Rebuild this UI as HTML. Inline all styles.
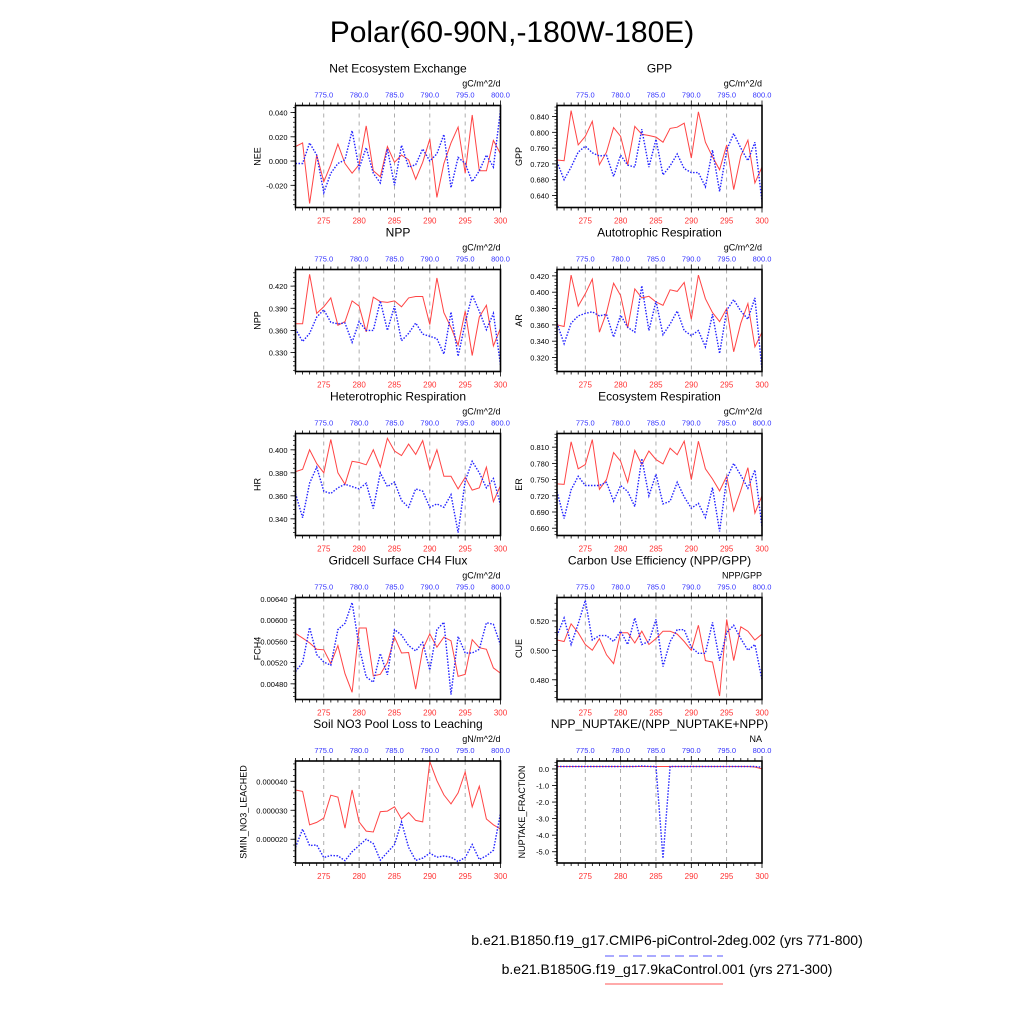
<!DOCTYPE html>
<html><head><meta charset="utf-8"><style>
html,body{margin:0;padding:0;background:#fff;}
svg{display:block;font-family:"Liberation Sans",sans-serif;}
</style></head><body>
<svg id="chart" width="1024" height="1024" viewBox="0 0 1024 1024">
<text x="512" y="42" font-size="30" text-anchor="middle">Polar(60-90N,-180W-180E)</text>
<g>
<text x="667" y="945" font-size="14" text-anchor="middle">b.e21.B1850.f19_g17.CMIP6-piControl-2deg.002 (yrs 771-800)</text>
<line x1="605" y1="956" x2="723" y2="956" stroke="#55f" stroke-width="1" stroke-dasharray="9 5"/>
<text x="667" y="974" font-size="14" text-anchor="middle">b.e21.B1850G.f19_g17.9kaControl.001 (yrs 271-300)</text>
<line x1="605" y1="984" x2="723" y2="984" stroke="#f55" stroke-width="1"/>
</g>
<g id="panels"></g>
</svg>
<script>
const years = [271,272,273,274,275,276,277,278,279,280,281,282,283,284,285,286,287,288,289,290,291,292,293,294,295,296,297,298,299,300];
const topTickLabels = ["775.0","780.0","785.0","790.0","795.0","800.0"];
const bottomTickLabels = ["275","280","285","290","295","300"];

const neeRed = [0.012,0.015,-0.035,0.005,-0.017,-0.003,0.014,-0.002,-0.010,-0.003,0.029,-0.008,-0.013,0.012,-0.001,0.005,0.001,-0.015,-0.001,0.018,-0.030,-0.002,0.015,0.028,-0.010,0.038,-0.008,-0.008,0.017,0.006];
const neeBlue = [-0.002,-0.002,0.015,0.005,-0.026,-0.010,-0.002,0.001,0.025,-0.006,0.011,-0.010,-0.018,0.010,-0.020,0.013,-0.005,-0.003,0.010,0.000,0.006,0.022,-0.022,0.003,-0.002,-0.017,-0.008,0.005,-0.005,0.042];
const gppRed = [0.730,0.728,0.855,0.768,0.790,0.828,0.718,0.750,0.812,0.790,0.718,0.815,0.795,0.792,0.788,0.775,0.810,0.813,0.823,0.735,0.852,0.775,0.738,0.705,0.768,0.655,0.740,0.780,0.672,0.712];
const gppBlue = [0.725,0.680,0.712,0.750,0.765,0.748,0.740,0.742,0.688,0.742,0.717,0.712,0.808,0.712,0.782,0.692,0.715,0.745,0.708,0.698,0.698,0.662,0.755,0.650,0.755,0.797,0.760,0.728,0.775,0.625];
const nppRed = [0.369,0.369,0.436,0.383,0.392,0.404,0.367,0.372,0.400,0.393,0.358,0.405,0.399,0.398,0.400,0.392,0.404,0.406,0.406,0.368,0.431,0.384,0.364,0.340,0.386,0.326,0.378,0.394,0.339,0.363];
const nppBlue = [0.362,0.345,0.356,0.378,0.388,0.371,0.369,0.370,0.344,0.372,0.360,0.360,0.400,0.360,0.393,0.346,0.356,0.370,0.355,0.352,0.349,0.328,0.385,0.325,0.370,0.408,0.386,0.361,0.383,0.313];
const arRed = [0.360,0.358,0.421,0.383,0.398,0.416,0.351,0.375,0.411,0.396,0.356,0.404,0.393,0.395,0.388,0.384,0.403,0.401,0.412,0.367,0.421,0.392,0.375,0.364,0.380,0.327,0.362,0.386,0.333,0.351];
const arBlue = [0.362,0.337,0.362,0.371,0.374,0.376,0.371,0.373,0.345,0.372,0.357,0.351,0.408,0.353,0.389,0.348,0.361,0.377,0.353,0.347,0.353,0.333,0.373,0.325,0.378,0.391,0.377,0.367,0.393,0.305];
const hrRed = [0.381,0.383,0.400,0.388,0.380,0.409,0.380,0.370,0.390,0.389,0.387,0.400,0.385,0.410,0.399,0.395,0.405,0.396,0.408,0.383,0.400,0.377,0.377,0.366,0.376,0.365,0.367,0.385,0.355,0.369];
const hrBlue = [0.362,0.341,0.371,0.385,0.364,0.362,0.367,0.370,0.368,0.366,0.371,0.349,0.380,0.368,0.372,0.356,0.350,0.366,0.364,0.350,0.353,0.350,0.361,0.328,0.373,0.390,0.380,0.367,0.375,0.352];
const erRed = [0.742,0.741,0.820,0.770,0.778,0.824,0.732,0.750,0.800,0.784,0.745,0.804,0.778,0.803,0.787,0.779,0.808,0.796,0.821,0.750,0.821,0.770,0.751,0.729,0.756,0.692,0.730,0.772,0.688,0.720];
const erBlue = [0.728,0.678,0.731,0.756,0.739,0.739,0.739,0.745,0.710,0.739,0.728,0.700,0.789,0.720,0.760,0.705,0.710,0.745,0.718,0.697,0.706,0.680,0.735,0.654,0.752,0.780,0.758,0.734,0.768,0.662];
const fch4Red = [0.00575,0.00566,0.00557,0.00545,0.00544,0.00518,0.00552,0.00499,0.00464,0.00585,0.00585,0.00495,0.00498,0.00520,0.00568,0.00538,0.00539,0.00470,0.00545,0.00574,0.00549,0.00568,0.00561,0.00494,0.00498,0.00563,0.00548,0.00545,0.00510,0.00500];
const fch4Blue = [0.00503,0.00520,0.00586,0.00535,0.00521,0.00515,0.00582,0.00594,0.00633,0.00550,0.00493,0.00483,0.00537,0.00497,0.00582,0.00572,0.00552,0.00542,0.00558,0.00506,0.00582,0.00596,0.00460,0.00569,0.00538,0.00538,0.00545,0.00595,0.00592,0.00553];
const cueRed = [0.507,0.506,0.518,0.512,0.504,0.500,0.508,0.497,0.491,0.512,0.512,0.505,0.513,0.504,0.508,0.513,0.513,0.511,0.506,0.500,0.517,0.493,0.492,0.469,0.521,0.493,0.516,0.513,0.507,0.511];
const cueBlue = [0.510,0.522,0.504,0.518,0.534,0.507,0.510,0.510,0.506,0.513,0.504,0.522,0.504,0.506,0.521,0.489,0.506,0.514,0.514,0.502,0.498,0.498,0.519,0.493,0.512,0.517,0.508,0.500,0.504,0.480];
const sminRed = [37.0e-6,36.5e-6,25.0e-6,25.8e-6,27.3e-6,35.2e-6,34.5e-6,23.8e-6,37.0e-6,26.0e-6,22.8e-6,22.5e-6,29.5e-6,29.7e-6,31.2e-6,27.0e-6,29.2e-6,26.5e-6,26.0e-6,46.8e-6,40.2e-6,35.3e-6,32.2e-6,36.0e-6,43.2e-6,31.2e-6,38.3e-6,27.0e-6,25.0e-6,23.5e-6];
const sminBlue = [17.2e-6,23.5e-6,17.8e-6,18.0e-6,13.7e-6,14.4e-6,14.3e-6,12.6e-6,15.7e-6,17.8e-6,20.0e-6,18.5e-6,12.8e-6,15.5e-6,18.1e-6,26.0e-6,17.2e-6,12.7e-6,13.5e-6,15.2e-6,13.8e-6,14.2e-6,13.8e-6,12.3e-6,13.7e-6,18.2e-6,13.0e-6,14.3e-6,16.2e-6,29.0e-6];
const nupRed = [0.15,0.15,0.15,0.15,0.15,0.15,0.15,0.15,0.15,0.15,0.15,0.15,0.15,0.15,0.15,0.15,0.15,0.15,0.15,0.15,0.15,0.15,0.15,0.15,0.15,0.15,0.15,0.15,0.12,0.0];
const nupBlue = [0.15,0.15,0.15,0.15,0.15,0.15,0.15,0.15,0.15,0.15,0.15,0.15,0.18,0.15,0.15,-5.4,0.15,0.15,0.15,0.15,0.15,0.15,0.15,0.15,0.15,0.15,0.15,0.15,0.15,0.10];

const panels = [
 {name:"nee",title:"Net Ecosystem Exchange",ylab:"NEE",unit:"gC/m^2/d",col:0,row:0,ymin:-0.0383,ymax:0.0458,t0:-0.02,t1:0.04,step:0.02,dec:3,red:neeRed,blue:neeBlue},
 {name:"gpp",title:"GPP",ylab:"GPP",unit:"gC/m^2/d",col:1,row:0,ymin:0.6096,ymax:0.8679,t0:0.64,t1:0.84,step:0.04,dec:3,red:gppRed,blue:gppBlue},
 {name:"npp",title:"NPP",ylab:"NPP",unit:"gC/m^2/d",col:0,row:1,ymin:0.3044,ymax:0.4425,t0:0.33,t1:0.42,step:0.03,dec:3,red:nppRed,blue:nppBlue},
 {name:"ar",title:"Autotrophic Respiration",ylab:"AR",unit:"gC/m^2/d",col:1,row:1,ymin:0.3029,ymax:0.4278,t0:0.32,t1:0.42,step:0.02,dec:3,red:arRed,blue:arBlue},
 {name:"hr",title:"Heterotrophic Respiration",ylab:"HR",unit:"gC/m^2/d",col:0,row:2,ymin:0.3255,ymax:0.4142,t0:0.34,t1:0.40,step:0.02,dec:3,red:hrRed,blue:hrBlue},
 {name:"er",title:"Ecosystem Respiration",ylab:"ER",unit:"gC/m^2/d",col:1,row:2,ymin:0.6465,ymax:0.8353,t0:0.66,t1:0.81,step:0.03,dec:3,red:erRed,blue:erBlue},
 {name:"fch4",title:"Gridcell Surface CH4 Flux",ylab:"FCH4",unit:"gC/m^2/d",col:0,row:3,ymin:0.004505,ymax:0.006425,t0:0.0048,t1:0.0064,step:0.0004,dec:5,red:fch4Red,blue:fch4Blue},
 {name:"cue",title:"Carbon Use Efficiency (NPP/GPP)",ylab:"CUE",unit:"NPP/GPP",col:1,row:3,ymin:0.4666,ymax:0.5359,t0:0.48,t1:0.52,step:0.02,dec:3,red:cueRed,blue:cueBlue},
 {name:"smin",title:"Soil NO3 Pool Loss to Leaching",ylab:"SMIN_NO3_LEACHED",unit:"gN/m^2/d",col:0,row:4,ymin:11.8e-6,ymax:47.0e-6,t0:20e-6,t1:40e-6,step:10e-6,dec:6,red:sminRed,blue:sminBlue},
 {name:"nuptake",title:"NPP_NUPTAKE/(NPP_NUPTAKE+NPP)",ylab:"NUPTAKE_FRACTION",unit:"NA",col:1,row:4,ymin:-5.68,ymax:0.48,t0:-5,t1:0,step:1,dec:1,red:nupRed,blue:nupBlue}
];
const colX=[295.5,557], rowY=[105.5,269.5,433.5,597.5,761], PW=205, PH=102;
const NS="http://www.w3.org/2000/svg";
const root=document.getElementById('panels');
function mk(tag,attrs,parent,txt){const e=document.createElementNS(NS,tag);for(const k in attrs)e.setAttribute(k,attrs[k]);if(txt!==undefined)e.textContent=txt;parent.appendChild(e);return e;}

panels.forEach(p=>{
  const x0=colX[p.col], y0=rowY[p.row];
  const g=mk('g',{},root);
  
  
  const xs=v=>x0+(v-271)/(300-271)*PW;
  const ys=v=>y0+PH-(v-p.ymin)/(p.ymax-p.ymin)*PH;
  const t=mk('text',{x:x0+PW/2,y:y0-33,'font-size':12,'text-anchor':'middle'},g,p.title);
  
  
  const u=mk('text',{x:x0+PW,y:y0-19,'font-size':9,'text-anchor':'end'},g,p.unit);
  
  
  bottomTickLabels.forEach((lab,i)=>{
    const yr=+lab, X=xs(yr);
    if(yr<300){const gl=mk('line',{x1:X,y1:y0,x2:X,y2:y0+PH,stroke:'#999','stroke-width':0.8,'stroke-dasharray':'4 4'},g);
    
    }
    const bl=mk('text',{x:X,y:y0+PH+16,'font-size':8,fill:'#f33','text-anchor':'middle'},g,lab);
    
    
    const tl=mk('text',{x:X,y:y0-8,'font-size':7.5,fill:'#33f','text-anchor':'middle'},g,topTickLabels[i]);
    
    
  });
  years.forEach(yr=>{
    const X=xs(yr), maj=(yr%5===0), L=maj?5:3;
    mk('line',{x1:X,y1:y0+PH,x2:X,y2:y0+PH+L,stroke:'#000','stroke-width':0.8},g);
    mk('line',{x1:X,y1:y0,x2:X,y2:y0-L,stroke:'#000','stroke-width':0.8},g);
  });
  const ms=p.step/5;
  for(let v=p.t0-10*ms; v<=p.ymax+1e-12; v+=ms){
    if(v<p.ymin) continue;
    const Y=ys(v);
    mk('line',{x1:x0,y1:Y,x2:x0-2.5,y2:Y,stroke:'#000','stroke-width':0.7},g);
  }
  for(let v=p.t0; v<=p.t1+p.step*0.01; v+=p.step){
    const Y=ys(v);
    mk('line',{x1:x0,y1:Y,x2:x0-5,y2:Y,stroke:'#000','stroke-width':0.8},g);
    let s=v.toFixed(p.dec); if(Math.abs(v)<1e-12) s=(0).toFixed(p.dec);
    const yl=mk('text',{x:x0-8,y:Y+3,'font-size':7.5,'text-anchor':'end'},g,s);
    
    
  }
  const lx=x0-(p.ylab.length>8?32:35)-(p.name==='smin'?17:0);
  const yt=mk('text',{x:lx,y:y0+PH/2,'font-size':9,'text-anchor':'middle',transform:`rotate(-90 ${lx} ${y0+PH/2})`},g,p.ylab);
  
  
  const cp=mk('clipPath',{id:'cp-'+p.name},g);
  mk('rect',{x:x0,y:y0,width:PW,height:PH},cp);
  const red=mk('polyline',{points:p.red.map((v,i)=>xs(years[i]).toFixed(1)+','+ys(v).toFixed(1)).join(' '),fill:'none',stroke:'#f44','stroke-width':1,'clip-path':'url(#cp-'+p.name+')'},g);
  
  
  const blue=mk('polyline',{points:p.blue.map((v,i)=>xs(years[i]).toFixed(1)+','+ys(v).toFixed(1)).join(' '),fill:'none',stroke:'#22f','stroke-width':1.4,'stroke-dasharray':'1.5 1.5','clip-path':'url(#cp-'+p.name+')'},g);
  
  
  const fr=mk('rect',{x:x0,y:y0,width:PW,height:PH,fill:'none',stroke:'#000','stroke-width':1.6},g);
  
  
});
</script>
</body></html>
